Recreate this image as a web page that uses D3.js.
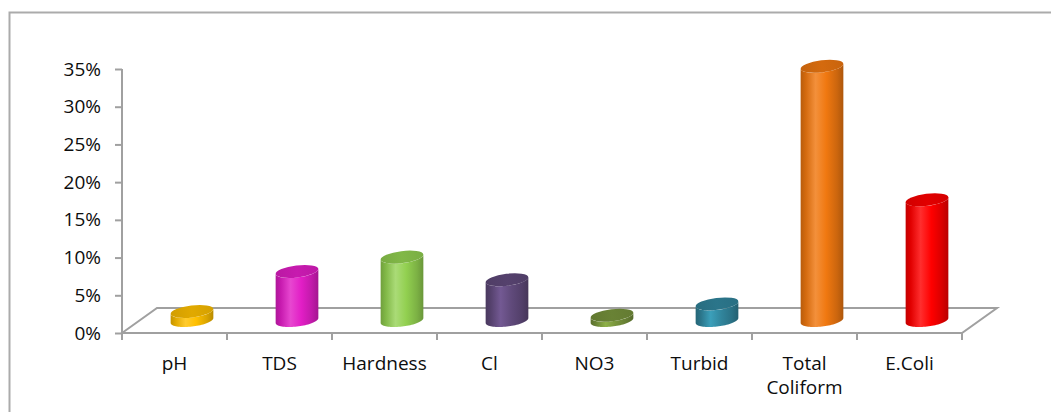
<!DOCTYPE html>
<html>
<head>
<meta charset="utf-8">
<script src="https://cdn.jsdelivr.net/npm/d3@7"></script>
<style>
  html, body { margin: 0; padding: 0; background: #fff; }
  svg { display: block; }
  text { font-family: "Open Sans", sans-serif; fill: #0d0d0d; }
</style>
</head>
<body>
<svg id="chart" width="1051" height="412"></svg>
<script>
const categories = ["pH", "TDS", "Hardness", "Cl", "NO3", "Turbid", "Total Coliform", "E.Coli"];
const values = [1.2, 6.5, 8.4, 5.4, 0.7, 2.2, 33.7, 16.0];
const yTicks = [0, 5, 10, 15, 20, 25, 30, 35];
const barColors = ["#FFC000", "#E21EC6", "#92D050", "#604A7B", "#77933C", "#31859C", "#F07810", "#FF0000"];

const svg = d3.select("#chart");
const W = 1051, H = 412;

// outer frame
svg.append("rect")
  .attr("x", 9.5).attr("y", 12.5)
  .attr("width", W + 20).attr("height", H + 20)
  .attr("fill", "none").attr("stroke", "#ABABAB").attr("stroke-width", 2);

const x0 = 122, x1 = 962;
const y = d3.scaleLinear().domain([0, 35]).range([333, 69]);
const x = d3.scaleBand().domain(categories).range([x0, x1]).padding(0);
const depthX = 35, depthY = -25;
const axisColor = "#A0A0A0";

// floor
const floor = [[x0, y(0)], [x0 + depthX, y(0) + depthY], [x1 + depthX, y(0) + depthY], [x1, y(0)]];
svg.append("path")
  .attr("d", "M" + floor.map(p => p.join(",")).join("L") + "Z")
  .attr("fill", "#fff").attr("stroke", axisColor).attr("stroke-width", 2);

// y axis
const yAxis = d3.axisLeft(y).tickValues(yTicks).tickSize(7).tickPadding(14)
  .tickFormat(d => d + "%");
const gy = svg.append("g").attr("transform", `translate(${x0},0)`).call(yAxis);
gy.select(".domain").remove();
gy.append("line").attr("x1", 0).attr("x2", 0).attr("y1", y(35)).attr("y2", y(0) + 7)
  .attr("stroke", axisColor).attr("stroke-width", 2);
gy.selectAll(".tick line").attr("stroke", axisColor).attr("stroke-width", 2);
gy.selectAll(".tick text").style("font-size", "19px").attr("fill", "#0d0d0d")
  .attr("font-family", "Open Sans");

// category boundary ticks
const bounds = categories.map(c => x(c)).concat([x1]);
svg.append("g").selectAll("line").data(bounds).join("line")
  .attr("x1", d => d).attr("x2", d => d)
  .attr("y1", y(0)).attr("y2", y(0) + 7)
  .attr("stroke", axisColor).attr("stroke-width", 2);

// category labels with wrapping
const labelG = svg.append("g");
categories.forEach(c => {
  const cx = x(c) + x.bandwidth() / 2;
  const t = labelG.append("text").attr("x", cx).attr("y", 369.5)
    .attr("text-anchor", "middle").style("font-size", "19px").text(c);
  if (t.node().getComputedTextLength() > x.bandwidth() - 6 && c.includes(" ")) {
    const words = c.split(" ");
    t.text(null);
    words.forEach((w, i) => {
      t.append("tspan").attr("x", cx).attr("dy", i === 0 ? 0 : 24.5).text(w);
    });
  }
});

// cylinders
const defs = svg.append("defs");
const rx = 21.5, ry = 6, theta = -7 * Math.PI / 180;
function ept(cx, cy, t) {
  return [cx + rx * Math.cos(t) * Math.cos(theta) - ry * Math.sin(t) * Math.sin(theta),
          cy + rx * Math.cos(t) * Math.sin(theta) + ry * Math.sin(t) * Math.cos(theta)];
}
const t0 = Math.atan(-(ry * Math.sin(theta)) / (rx * Math.cos(theta)));
const line = d3.line();

const bars = svg.append("g");
categories.forEach((c, i) => {
  const v = values[i];
  const base = d3.color(barColors[i]);
  const cx = x(c) + x.bandwidth() / 2 + depthX / 2;
  const cyB = y(0) + depthY / 2;
  const cyT = y(v) + depthY / 2;

  const gid = "g" + i;
  const grad = defs.append("linearGradient").attr("id", gid)
    .attr("x1", "0%").attr("x2", "100%").attr("y1", "0%").attr("y2", "0%");
  const hsl = d3.hsl(base);
  const light = d3.hsl(hsl.h, hsl.s, Math.min(0.92, hsl.l * 1.12 + 0.03));
  [[0, base.darker(0.75)], [0.12, base.darker(0.35)], [0.35, light], [0.6, base], [0.85, base.darker(0.45)], [1, base.darker(0.9)]]
    .forEach(([o, col]) => grad.append("stop").attr("offset", o).attr("stop-color", col.toString()));

  const N = 40;
  const pts = [];
  pts.push(ept(cx, cyT, t0 + Math.PI));
  for (let k = 0; k <= N; k++) {
    const t = t0 + Math.PI - Math.PI * k / N;
    pts.push(ept(cx, cyB, t));
  }
  for (let k = 0; k <= N; k++) {
    const t = t0 + Math.PI * k / N;
    pts.push(ept(cx, cyT, t));
  }
  bars.append("path").attr("d", line(pts) + "Z").attr("fill", `url(#${gid})`);

  const tg = "tg" + i;
  const tgrad = defs.append("linearGradient").attr("id", tg)
    .attr("x1", "0%").attr("x2", "100%").attr("y1", "0%").attr("y2", "0%");
  [[0, base.darker(0.55)], [0.5, base.darker(0.35)], [1, base.darker(0.5)]]
    .forEach(([o, col]) => tgrad.append("stop").attr("offset", o).attr("stop-color", col.toString()));
  bars.append("ellipse").attr("cx", 0).attr("cy", 0).attr("rx", rx).attr("ry", ry)
    .attr("transform", `translate(${cx},${cyT}) rotate(${theta * 180 / Math.PI})`)
    .attr("fill", `url(#${tg})`);
});
</script>
</body>
</html>
